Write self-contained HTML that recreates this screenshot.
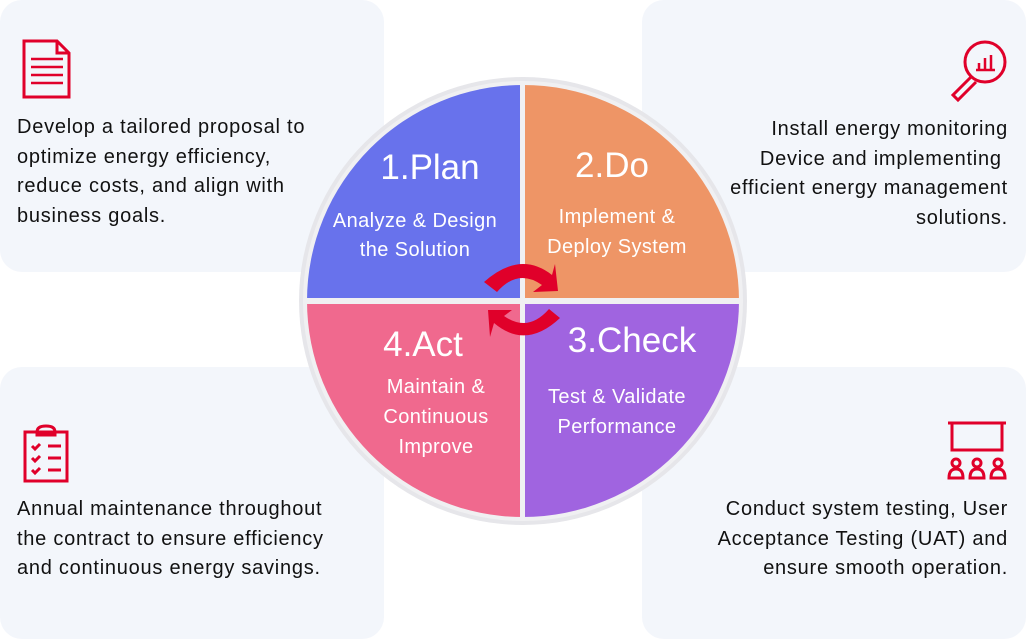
<!DOCTYPE html>
<html><head><meta charset="utf-8"><style>
html,body{margin:0;padding:0;background:#fff;}
body{width:1026px;height:639px;overflow:hidden;position:relative;font-family:"Liberation Sans",sans-serif;}
.card{position:absolute;background:#f3f6fb;border-radius:22px;width:384px;height:272px;}
.t{position:absolute;font-size:20px;letter-spacing:0.75px;line-height:29.7px;color:#111;white-space:nowrap;}
</style></head><body>
<div class="card" style="left:0;top:0"></div>
<div class="card" style="left:642px;top:0"></div>
<div class="card" style="left:0;top:367px"></div>
<div class="card" style="left:642px;top:367px"></div>
<div class="t" style="left:17px;top:113px;">Develop a tailored proposal to<br>optimize energy efficiency,<br>reduce costs, and align with<br>business goals.</div>
<div class="t" style="right:18px;top:115px;text-align:right;">Install energy monitoring<br>Device and implementing&nbsp;<br>efficient energy management<br>solutions.</div>
<div class="t" style="left:17px;top:495px;">Annual maintenance throughout<br>the contract to ensure efficiency<br>and continuous energy savings.</div>
<div class="t" style="right:18px;top:495px;text-align:right;">Conduct system testing, User<br>Acceptance Testing (UAT) and<br>ensure smooth operation.</div>
<svg width="1026" height="639" style="position:absolute;left:0;top:0" xmlns="http://www.w3.org/2000/svg">
<g fill="none" stroke="#e0002a" stroke-width="3">
<path d="M24,41 H57 L69,53 V97 H24 Z M57,41 V53 H69"/>
<path d="M31,59H63M31,67H63M31,75H63M31,83H63" stroke-width="2.5"/>
<circle cx="985" cy="62" r="20"/>
<path d="M971,77 L953,95 L958,100 L976,82"/>
<path d="M976,70H995M979,70V63M985,70V58M991,70V55" stroke-width="2.5"/>
<path d="M25,432H67V481H25Z"/>
<path d="M37,432 q0,-6 9,-6 q9,0 9,6 v3 h-18z"/>
<path d="M32,446l3,3 5,-5M32,458l3,3 5,-5M32,470l3,3 5,-5M48,446H61M48,458H61M48,470H61"/>
<path d="M948,423H1006M952,423V450H1002V423"/>
<circle cx="956" cy="463" r="4"/><circle cx="977" cy="463" r="4"/><circle cx="998" cy="463" r="4"/>
<path d="M949,478 q0,-9 7,-9 q7,0 7,9z M970,478 q0,-9 7,-9 q7,0 7,9z M991,478 q0,-9 7,-9 q7,0 7,9z"/>
</g>
<circle cx="523" cy="301" r="224" fill="#e6e6ea"/>
<circle cx="523" cy="301" r="220" fill="#f0f0f2"/>
<clipPath id="c"><circle cx="523" cy="301" r="216"/></clipPath>
<g clip-path="url(#c)">
<rect x="300" y="80" width="220" height="218" fill="#6872ec"/>
<rect x="525" y="80" width="220" height="218" fill="#ee9566"/>
<rect x="300" y="304" width="220" height="220" fill="#f0698e"/>
<rect x="525" y="304" width="220" height="220" fill="#a064e0"/>
</g>
<g fill="#fff" font-family="Liberation Sans, sans-serif" text-anchor="middle">
<text x="430" y="179" font-size="35">1.Plan</text>
<text x="415" y="227" font-size="20" letter-spacing="0.4">Analyze &amp; Design</text>
<text x="415" y="256" font-size="20" letter-spacing="0.4">the Solution</text>
<text x="612" y="177" font-size="35">2.Do</text>
<text x="617" y="223" font-size="20" letter-spacing="0.4">Implement &amp;</text>
<text x="617" y="253" font-size="20" letter-spacing="0.4">Deploy System</text>
<text x="423" y="356" font-size="35">4.Act</text>
<text x="436" y="393" font-size="20" letter-spacing="0.4">Maintain &amp;</text>
<text x="436" y="423" font-size="20" letter-spacing="0.4">Continuous</text>
<text x="436" y="453" font-size="20" letter-spacing="0.4">Improve</text>
<text x="632" y="352" font-size="35">3.Check</text>
<text x="617" y="403" font-size="20" letter-spacing="0.4">Test &amp; Validate</text>
<text x="617" y="433" font-size="20" letter-spacing="0.4">Performance</text>
</g>
<g fill="#e0002a">
<path d="M484,282 Q520,250 552,275 L555,264 L558,291 L533,292 L542,285 Q518,268 497,292 Z"/>
<path d="M560,318 Q526,350 494,323 L490,337 L488,310 L512,310 L504,316 Q528,333 549,309 Z"/>
</g>
</svg>
</body></html>
